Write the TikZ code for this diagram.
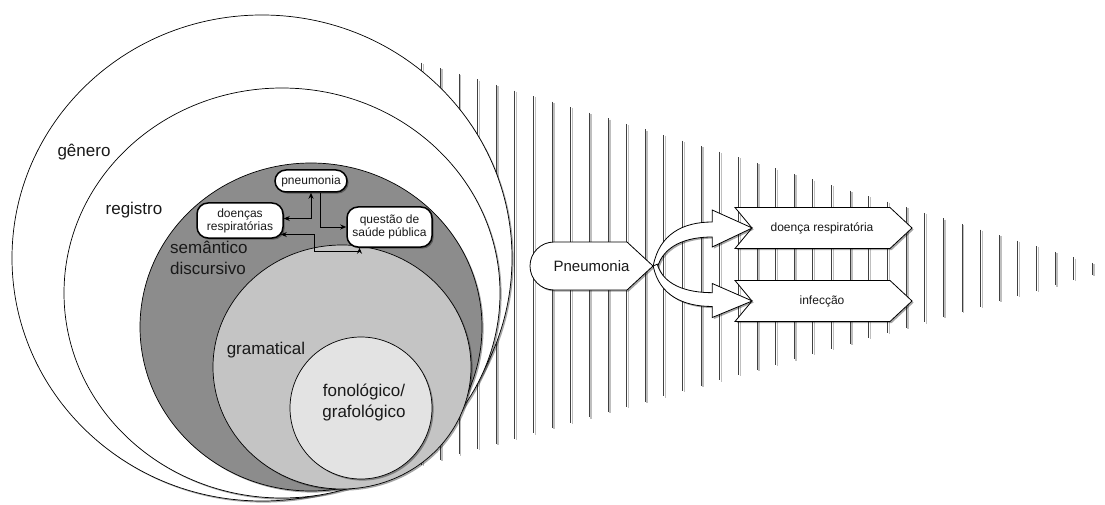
\documentclass[tikz,border=0pt]{standalone}
\usepackage{fontspec}
\setmainfont{Liberation Sans}
\usepackage{xcolor}
\usetikzlibrary{arrows.meta,shadows,positioning}
\definecolor{semcol}{RGB}{140,140,140}
\definecolor{gramcol}{RGB}{196,196,196}
\definecolor{fonocol}{RGB}{227,227,227}
\definecolor{inkcol}{RGB}{25,25,25}

\begin{document}
\begin{tikzpicture}[
  x=1pt, y=-1pt, >={Stealth[length=6pt,width=5pt]},
  lifted/.style={drop shadow={shadow xshift=1.6pt, shadow yshift=-1.6pt, opacity=.35, fill=black}},
  hatch/.style={line width=.9pt, black!75},
  hatchshade/.style={line width=1.4pt, black!25},
  stratum/.style={draw=black, line width=.7pt, lifted},
  lbl/.style={font=\fontsize{17}{21}\selectfont, text=inkcol, inner sep=0pt},
  term/.style={draw=black, line width=1.5pt, fill=white, rounded corners=11pt, align=center,
    font=\fontsize{12}{13}\selectfont, text=inkcol, inner sep=0pt, lifted},
  link/.style={line width=.9pt},
  blk/.style={draw=black, line width=.8pt, fill=white, lifted},
  tag/.style={text=inkcol, inner sep=0pt},
]
\useasboundingbox (0,0) rectangle (1105,505);

% narrowing stripes behind everything
\foreach \i in {0,...,36}{
  \pgfmathsetmacro\hx{421.7+18.63*\i}
  \pgfmathsetmacro\htop{62.7+0.2985*(\hx-421.7)}
  \pgfmathsetmacro\hbot{465-0.2835*(\hx-421.7)}
  \draw[hatchshade] (\hx+1.8,\htop+1.2) -- (\hx+1.8,\hbot+1.2);
  \draw[hatch] (\hx,\htop) -- (\hx,\hbot);
}

% nested strata
\filldraw[stratum, fill=white] (262,258) ellipse [x radius=250, y radius=243];
\filldraw[stratum, fill=white] (282,293) ellipse [x radius=218, y radius=205];
\filldraw[stratum, fill=semcol] (311,327) ellipse [x radius=171, y radius=164];
\filldraw[stratum, fill=gramcol] (342,367) ellipse [x radius=129, y radius=122];
\filldraw[stratum, fill=fonocol] (361,408) ellipse [x radius=71, y radius=71];

\node[lbl] (genero) at (84,152) {gênero};
\node[lbl] (registro) at (134,210) {registro};
\node[lbl, align=left, anchor=west] (semantico) at (170,258) {semântico\\discursivo};
\node[lbl] (gramatical) at (266,350) {gramatical};
\node[lbl, align=center] (fono) at (364,403) {fonológico/\\grafológico};

% terms inside the semantic stratum
\node[term, minimum width=72pt, minimum height=22pt] (pneu) at (311,181) {pneumonia};
\node[term, minimum width=86pt, minimum height=35pt] (doe) at (240,220.5) {doenças\\respiratórias};
\node[term, minimum width=85pt, minimum height=40pt] (que) at (389.5,227) {questão de\\saúde pública};

\draw[link, <->] ([yshift=2pt]doe.east) -| (pneu.south);
\draw[link, ->] ([xshift=9pt]pneu.south) |- (que.west);
\draw[link, <->] ([xshift=-3pt,yshift=-14pt]doe.east) -- ++(34,0) -- ++(0,17) -| ([xshift=-30pt]que.south);

% the word and its two readings
\filldraw[blk] (554,242) -- (627,242) -- (653,266) -- (627,290) -- (554,290)
  arc[start angle=90, end angle=270, radius=24] -- cycle;
\node[tag, font=\fontsize{15}{17}\selectfont, minimum width=123pt, minimum height=48pt] (pn) at (591.5,266) {Pneumonia};

\filldraw[blk] (735,207.5) -- (890,207.5) -- (912,228) -- (890,248.5) -- (735,248.5) -- (752,228) -- cycle;
\node[tag, font=\fontsize{12}{14}\selectfont] (dr) at (822,228) {doença respiratória};
\filldraw[blk] (735,280.5) -- (890,280.5) -- (912,301) -- (890,321.5) -- (735,321.5) -- (752,301) -- cycle;
\node[tag, font=\fontsize{12}{14}\selectfont] (inf) at (822,301) {infecção};

\begin{scope}[shift={(pn.east)}]
  \filldraw[blk] (0,0) .. controls (6,-32) and (30,-44) .. (59,-44) -- (59,-56) -- (99,-38)
    -- (59,-19) -- (59,-29) .. controls (32,-29) and (10,-20) .. (4,2) -- cycle;
\end{scope}
\begin{scope}[shift={(pn.east)}, yscale=-0.92]
  \filldraw[blk] (0,0) .. controls (6,-32) and (30,-44) .. (59,-44) -- (59,-56) -- (99,-38)
    -- (59,-19) -- (59,-29) .. controls (32,-29) and (10,-20) .. (4,2) -- cycle;
\end{scope}
\end{tikzpicture}
\end{document}
